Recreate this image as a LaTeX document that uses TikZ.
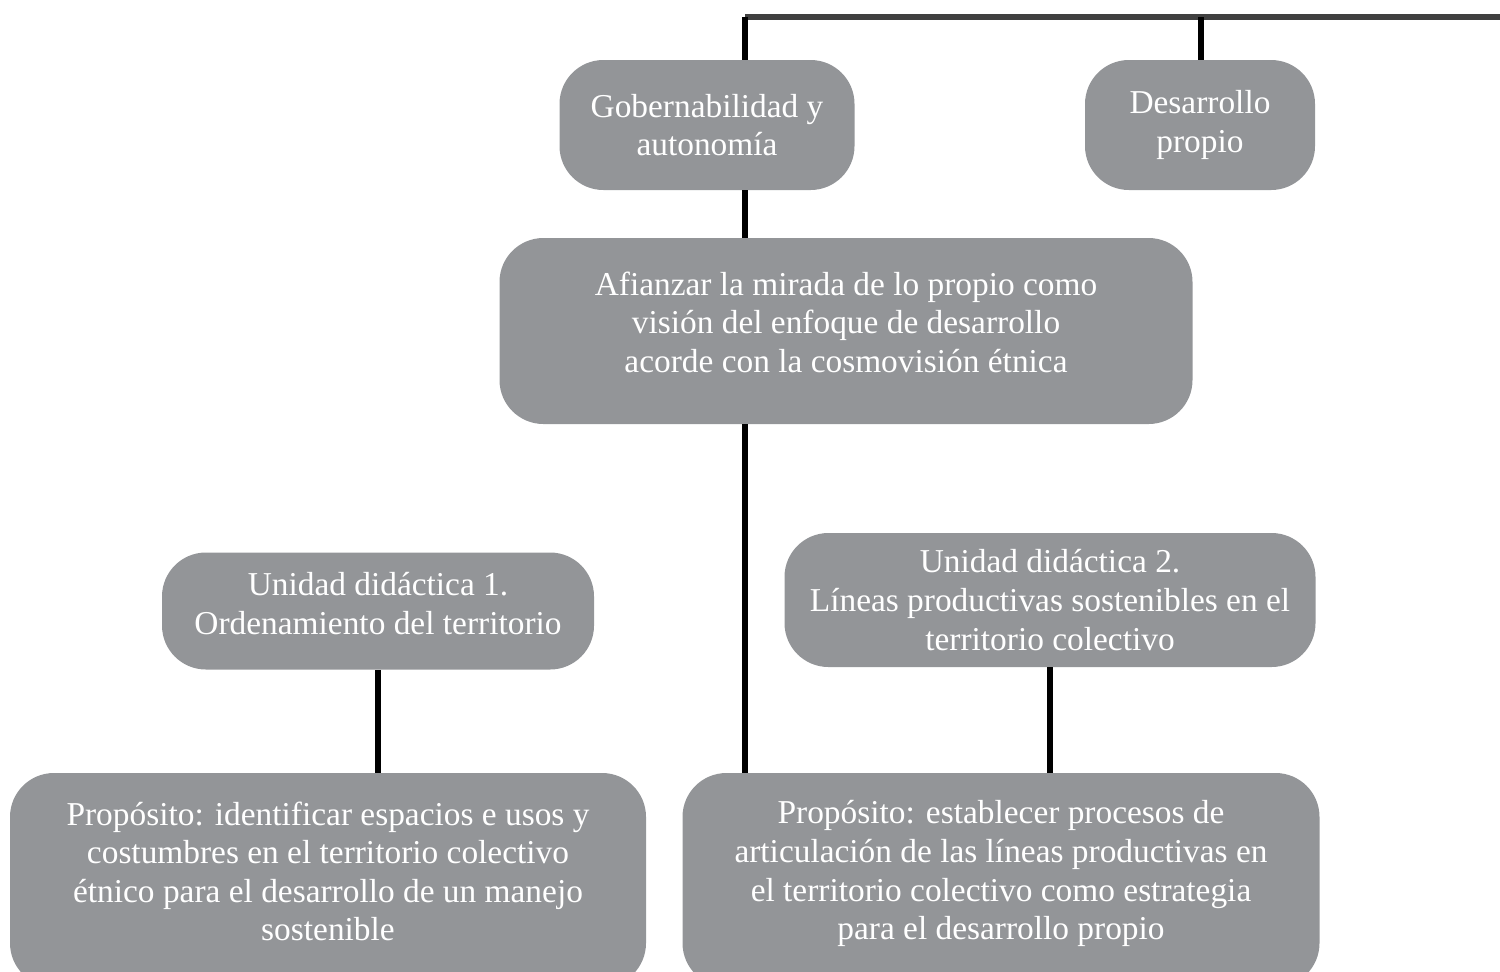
\documentclass[tikz,border=0pt]{standalone}
\usepackage{fontspec}
\setmainfont{Liberation Serif}
\usepackage{xcolor}
\definecolor{boxgray}{HTML}{939598}
\definecolor{topline}{HTML}{404040}

\begin{document}
\begin{tikzpicture}[x=0.02cm,y=-0.02cm,
  caja/.style={fill=boxgray,text=white,rounded corners=25pt,align=center,inner sep=0pt,
    font=\fontsize{19}{22}\selectfont},
  enlace/.style={line width=3.4pt,black}]
\useasboundingbox (0,0) rectangle (1500,971);
\clip (0,0) rectangle (1500,971);
\coordinate (t1) at (745,17);
\coordinate (t2) at (1201,17);
\coordinate (tR) at (1505,17);
\node[caja,minimum width=295*0.02cm,minimum height=130*0.02cm] (gob) at (707,125) {Gobernabilidad y\\autonomía};
\node[caja,minimum width=230*0.02cm,minimum height=130*0.02cm] (des) at (1200,125) {Desarrollo\\propio};
\node[caja,minimum width=693*0.02cm,minimum height=186*0.02cm,text depth=10pt] (afi) at (846,331) {Afianzar la mirada de lo propio como\\visión del enfoque de desarrollo\\acorde con la cosmovisión étnica};
\node[caja,minimum width=432*0.02cm,minimum height=117*0.02cm,text depth=9pt] (uni1) at (378,611) {Unidad didáctica 1.\\Ordenamiento del territorio};
\node[caja,minimum width=531*0.02cm,minimum height=134*0.02cm] (uni2) at (1050,600) {Unidad didáctica 2.\\Líneas productivas sostenibles en el\\territorio colectivo};
\node[caja,minimum width=636*0.02cm,minimum height=214*0.02cm,text depth=10pt] (pro1) at (328,880) {Propósito: identificar espacios e usos y\\costumbres en el territorio colectivo\\étnico para el desarrollo de un manejo\\sostenible};
\node[caja,minimum width=637*0.02cm,minimum height=214*0.02cm,text depth=11pt] (pro2) at (1001,880) {Propósito: establecer procesos de\\articulación de las líneas productivas en\\el territorio colectivo como estrategia\\para el desarrollo propio};
\draw[line width=3.4pt,topline] (t1) -- (tR);
\draw[enlace] (t1) -- (t1 |- gob.north);
\draw[enlace] (t2) -- (t2 |- des.north);
\draw[enlace] (t1 |- gob.south) -- (t1 |- afi.north);
\draw[enlace] (t1 |- afi.south) -- (t1 |- pro2.north);
\draw[enlace] (uni1.south) -- (uni1.south |- pro1.north);
\draw[enlace] (uni2.south) -- (uni2.south |- pro2.north);
\end{tikzpicture}
\end{document}
